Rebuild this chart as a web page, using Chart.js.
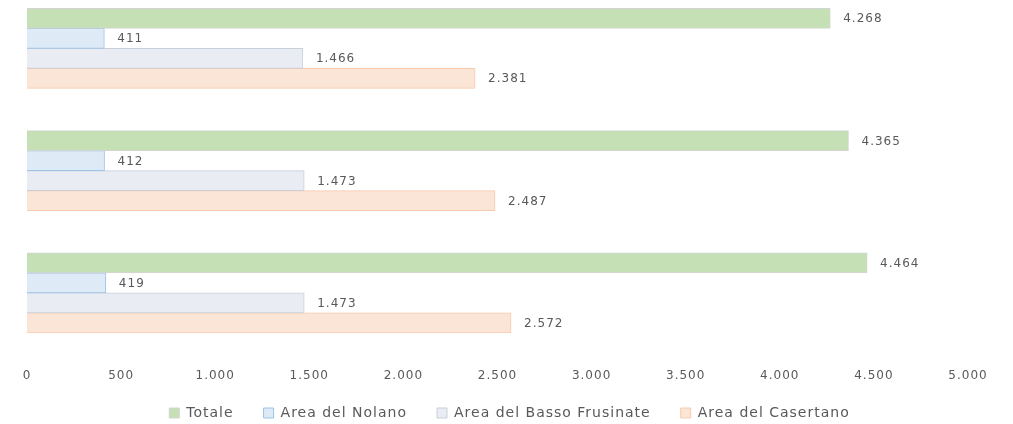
<!DOCTYPE html>
<html>
<head>
<meta charset="utf-8">
<script src="https://cdn.jsdelivr.net/npm/chart.js@4/dist/chart.umd.min.js"></script>
<style>
  html, body { margin: 0; padding: 0; background: #fff; }
  #wrap { width: 1013px; height: 424px; }
</style>
</head>
<body>
<div id="wrap"><canvas id="myChart" width="1013" height="424"></canvas></div>
<script>
// the three groups carry no visible label in the original, so they are indexed 0..2
let categories = [0, 1, 2];
let totale = [4268, 4365, 4464];
let nolano = [411, 412, 419];
let bassoFrusinate = [1466, 1473, 1473];
let casertano = [2381, 2487, 2572];
let xTicks = [0, 500, 1000, 1500, 2000, 2500, 3000, 3500, 4000, 4500, 5000];

function fmt(v) {
  return String(v).replace(/\B(?=(\d{3})+(?!\d))/g, ".");
}

function points(values) {
  return values.map((v, i) => ({ x: v, y: categories[i] }));
}

const FONT = "'DejaVu Sans', sans-serif";
const GREY = "#595959";

// wide, letter-spaced text like the original office font
const spacing = {
  id: "spacing",
  beforeUpdate(chart) {
    chart.ctx.letterSpacing = "1px";
  },
  beforeDraw(chart) {
    chart.ctx.letterSpacing = "1px";
  },
  afterLayout(chart) {
    // pull the legend row up a little and centre it under the bars
    const lg = chart.legend;
    lg.top -= 10;
    lg.bottom -= 10;
    lg.left += 12;
    lg.right += 12;
  },
};

const valueLabels = {
  id: "valueLabels",
  afterDatasetsDraw(chart) {
    const ctx = chart.ctx;
    ctx.save();
    ctx.font = "12px " + FONT;
    ctx.fillStyle = GREY;
    ctx.textAlign = "left";
    ctx.textBaseline = "middle";
    chart.data.datasets.forEach((ds, i) => {
      chart.getDatasetMeta(i).data.forEach((bar, j) => {
        ctx.fillText(fmt(ds.data[j].x), bar.x + 13, bar.y + 1);
      });
    });
    ctx.restore();
  },
};

var ctx = document.getElementById("myChart").getContext("2d");
var myChart = new Chart(ctx, {
  type: "bar",
  data: {
    datasets: [
      {
        label: "Totale",
        data: points(totale),
        backgroundColor: "#c5e0b4",
        borderColor: "#d4d4d4",
        borderWidth: 1,
      },
      {
        label: "Area del Nolano",
        data: points(nolano),
        backgroundColor: "#deebf7",
        borderColor: "#9dc3e6",
        borderWidth: 1,
      },
      {
        label: "Area del Basso Frusinate",
        data: points(bassoFrusinate),
        backgroundColor: "#e9edf3",
        borderColor: "#c8d0dc",
        borderWidth: 1,
      },
      {
        label: "Area del Casertano",
        data: points(casertano),
        backgroundColor: "#fbe5d6",
        borderColor: "#f8cbad",
        borderWidth: 1,
      },
    ],
  },
  options: {
    indexAxis: "y",
    responsive: false,
    animation: false,
    layout: { padding: { top: 0, left: 27, right: 45, bottom: -16 } },
    scales: {
      y: {
        type: "linear",
        display: false,
        offset: false,
        reverse: true,
        min: -0.395,
        max: 2.529,
      },
      x: {
        min: 0,
        max: 5000,
        afterBuildTicks: (scale) => {
          scale.ticks = xTicks.map((v) => ({ value: v }));
        },
        grid: { display: false },
        border: { display: false },
        ticks: {
          color: GREY,
          font: { family: FONT, size: 12 },
          callback: (v) => fmt(v),
        },
      },
    },
    datasets: {
      bar: { barThickness: 20, clip: false },
    },
    plugins: {
      legend: {
        position: "bottom",
        labels: {
          boxWidth: 10,
          boxHeight: 10,
          padding: 30,
          color: GREY,
          font: { family: FONT, size: 14 },
        },
      },
      tooltip: { enabled: false },
    },
  },
  plugins: [spacing, valueLabels],
});
</script>
</body>
</html>
